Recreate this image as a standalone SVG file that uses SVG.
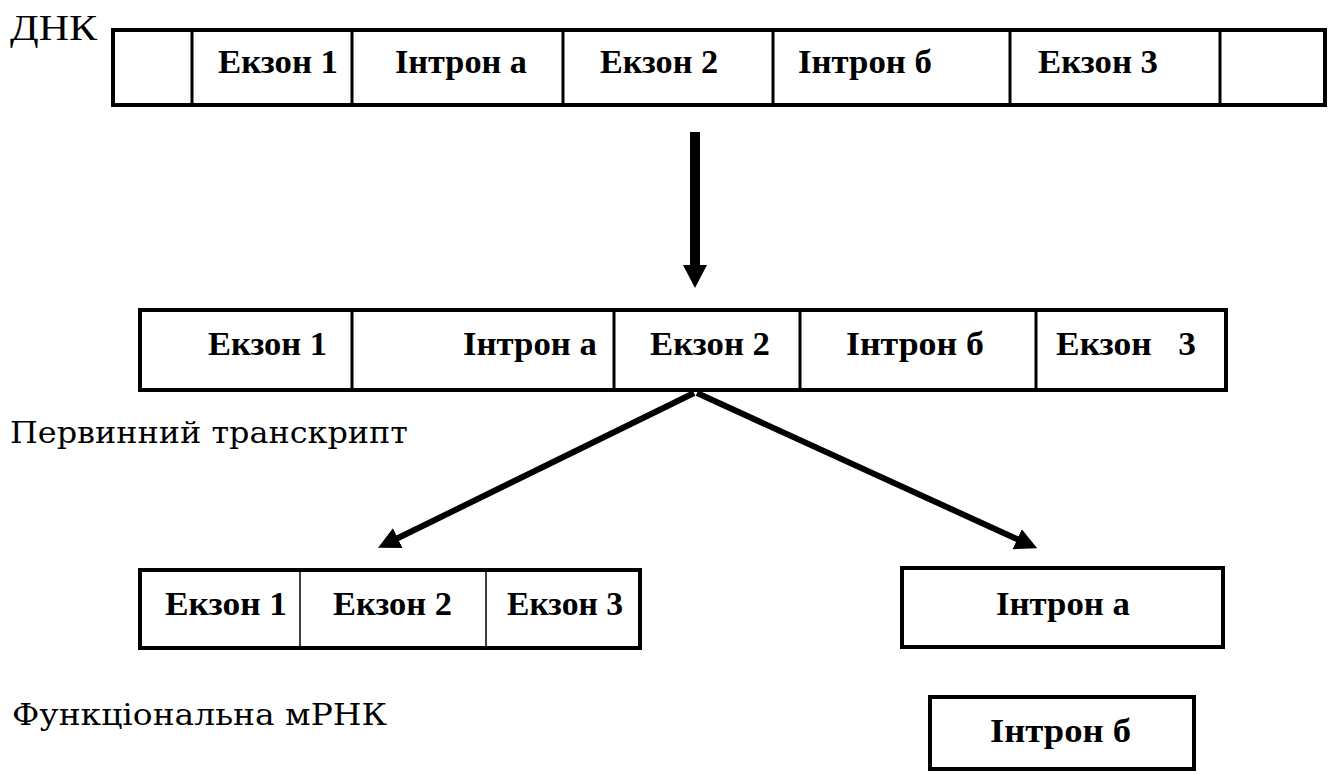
<svg xmlns="http://www.w3.org/2000/svg" width="1334" height="774" viewBox="0 0 1334 774">
<style>
.bx{fill:#fff;stroke:#000;stroke-width:4}
.dv{stroke:#000;stroke-width:3}
.dt{stroke:#000;stroke-width:1.5}
.t{font-family:"Liberation Serif","Times New Roman",serif;font-weight:bold;font-size:33px;fill:#000}
.lb{font-family:"DejaVu Serif","Liberation Serif",serif;font-size:30px;fill:#000}
.dnk{font-family:"Liberation Serif","Times New Roman",serif;font-size:36px;fill:#000}
.cn{stroke:#000;fill:none}
</style>
<defs>
<marker id="hv" markerUnits="userSpaceOnUse" viewBox="0 0 24 24" markerWidth="24" markerHeight="24" refX="1" refY="12" orient="auto"><path d="M0,0 L23,12 L0,24 z" fill="#000"/></marker>
<marker id="hd" markerUnits="userSpaceOnUse" viewBox="0 0 22 22" markerWidth="22" markerHeight="22" refX="2" refY="11" orient="auto"><path d="M0,0 L22,11 L0,22 z" fill="#000"/></marker>
</defs>
<rect width="1334" height="774" fill="#fff"/>

<g id="dna">
<text class="dnk" x="10" y="40" textLength="87" lengthAdjust="spacingAndGlyphs">ДНК</text>
<rect class="bx" x="113" y="30" width="1212" height="75"/>
<line class="dv" x1="192" y1="30" x2="192" y2="105"/>
<line class="dv" x1="352" y1="30" x2="352" y2="105"/>
<line class="dv" x1="563" y1="30" x2="563" y2="105"/>
<line class="dv" x1="773" y1="30" x2="773" y2="105"/>
<line class="dv" x1="1010" y1="30" x2="1010" y2="105"/>
<line class="dv" x1="1220" y1="30" x2="1220" y2="105"/>
<text class="t" x="218" y="73" textLength="120" lengthAdjust="spacingAndGlyphs">Екзон 1</text>
<text class="t" x="395" y="73" textLength="132" lengthAdjust="spacingAndGlyphs">Інтрон а</text>
<text class="t" x="600" y="73" textLength="118" lengthAdjust="spacingAndGlyphs">Екзон 2</text>
<text class="t" x="798" y="73" textLength="134" lengthAdjust="spacingAndGlyphs">Інтрон б</text>
<text class="t" x="1038" y="73" textLength="120" lengthAdjust="spacingAndGlyphs">Екзон 3</text>
</g>

<g id="primary">
<rect class="bx" x="140" y="310" width="1086" height="80"/>
<line class="dv" x1="352" y1="310" x2="352" y2="390"/>
<line class="dv" x1="614" y1="310" x2="614" y2="390"/>
<line class="dv" x1="800" y1="310" x2="800" y2="390"/>
<line class="dv" x1="1036" y1="310" x2="1036" y2="390"/>
<text class="t" x="208" y="355" textLength="119" lengthAdjust="spacingAndGlyphs">Екзон 1</text>
<text class="t" x="463" y="355" textLength="134" lengthAdjust="spacingAndGlyphs">Інтрон а</text>
<text class="t" x="650" y="355" textLength="120" lengthAdjust="spacingAndGlyphs">Екзон 2</text>
<text class="t" x="846" y="355" textLength="138" lengthAdjust="spacingAndGlyphs">Інтрон б</text>
<text class="t" x="1056" y="355" textLength="140" lengthAdjust="spacingAndGlyphs" xml:space="preserve">Екзон   3</text>
<text class="lb" x="10" y="443" textLength="398" lengthAdjust="spacingAndGlyphs">Первинний транскрипт</text>
</g>

<g id="mrna">
<rect class="bx" x="140" y="570" width="500" height="78"/>
<line class="dt" x1="300" y1="570" x2="300" y2="648"/>
<line class="dt" x1="486" y1="570" x2="486" y2="648"/>
<text class="t" x="165" y="615" textLength="122" lengthAdjust="spacingAndGlyphs">Екзон 1</text>
<text class="t" x="333" y="615" textLength="119" lengthAdjust="spacingAndGlyphs">Екзон 2</text>
<text class="t" x="507" y="615" textLength="116" lengthAdjust="spacingAndGlyphs">Екзон 3</text>
<text class="lb" x="12" y="725" textLength="375" lengthAdjust="spacingAndGlyphs">Функціональна мРНК</text>
</g>

<g id="intron-a">
<rect class="bx" x="902" y="568" width="321" height="79"/>
<text class="t" x="996" y="615" textLength="134" lengthAdjust="spacingAndGlyphs">Інтрон а</text>
</g>

<g id="intron-b">
<rect class="bx" x="930" y="697" width="264" height="72"/>
<text class="t" x="990" y="742" textLength="141" lengthAdjust="spacingAndGlyphs">Інтрон б</text>
</g>

<g id="connectors">
<line class="cn" x1="695" y1="132" x2="695" y2="266" stroke-width="10" marker-end="url(#hv)"/>
<line class="cn" x1="694" y1="393" x2="396" y2="539" stroke-width="6" marker-end="url(#hd)"/>
<line class="cn" x1="697" y1="393" x2="1019" y2="540" stroke-width="6" marker-end="url(#hd)"/>
</g>
</svg>
